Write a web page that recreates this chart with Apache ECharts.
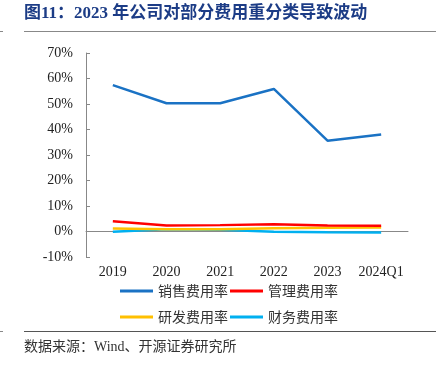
<!DOCTYPE html>
<html><head><meta charset="utf-8">
<script src="https://cdn.jsdelivr.net/npm/echarts@6/dist/echarts.min.js"></script>
<style>html,body{margin:0;padding:0;background:#fff}#c{width:436px;height:365px}</style>
</head><body><div id="c"></div>
<script>
const categories = ['2019','2020','2021','2022','2023','2024Q1'];
const salesRate = [57.4, 50.3, 50.3, 55.9, 35.6, 38.0];
const mgmtRate = [4.0, 2.4, 2.5, 2.8, 2.4, 2.3];
const rdRate = [1.2, 0.9, 0.9, 1.3, 1.5, 1.6];
const finRate = [-0.1, 0.9, 0.7, -0.1, -0.3, -0.4];
const seriesNames = ['销售费用率','管理费用率','研发费用率','财务费用率'];
const seriesColors = ['#1a72c4','#ff0000','#ffc000','#00b0f0'];
const yTicks = {min:-10, max:70, interval:10};

const chart = echarts.init(document.getElementById('c'), null, {renderer:'canvas'});
const values = [salesRate, mgmtRate, rdRate, finRate];
const serif = '"Liberation Serif","Times New Roman","Noto Sans CJK SC",serif';
const legendText = {fontSize:14, color:'#333', fontFamily:'"Noto Sans CJK SC",sans-serif'};
chart.setOption({
  animation:false,
  backgroundColor:'#fff',
  graphic:[
    {type:'text', left:24, top:5, style:{text:'图11：2023 年公司对部分费用重分类导致波动', font:'bold 17px "Liberation Serif","Noto Sans CJK SC",serif', fill:'#1c3c86'}},
    {type:'line', shape:{x1:24,y1:31.5,x2:436,y2:31.5}, style:{stroke:'#888',lineWidth:1}},
    {type:'line', shape:{x1:0,y1:31.5,x2:3,y2:31.5}, style:{stroke:'#888',lineWidth:1}},
    {type:'line', shape:{x1:24,y1:331.5,x2:436,y2:331.5}, style:{stroke:'#555',lineWidth:1}},
    {type:'line', shape:{x1:0,y1:331.5,x2:3,y2:331.5}, style:{stroke:'#888',lineWidth:1}},
    {type:'text', left:24, top:340, style:{text:'数据来源：Wind、开源证券研究所', font:'14px "Liberation Serif","Noto Sans CJK SC",serif', fill:'#333'}}
  ],
  grid:{left:86, right:28, top:53, bottom:108},
  xAxis:{type:'category', data:categories, boundaryGap:true,
    axisLine:{onZero:true, lineStyle:{color:'#888'}},
    axisTick:{inside:true, length:4, lineStyle:{color:'#888'}},
    axisLabel:{interval:0, color:'#222', fontSize:14, fontFamily:serif, margin:8}},
  yAxis:{type:'value', min:yTicks.min, max:yTicks.max, interval:yTicks.interval,
    axisLine:{show:true, lineStyle:{color:'#888'}},
    axisTick:{show:true, inside:true, length:4, lineStyle:{color:'#888'}},
    splitLine:{show:false},
    axisLabel:{color:'#222', fontSize:14, fontFamily:serif, margin:13, formatter:'{value}%'}},
  legend:[
    {data:[seriesNames[0],seriesNames[1]], left:115, top:279, icon:'rect', itemWidth:33, itemHeight:3, itemGap:2, textStyle:legendText},
    {data:[seriesNames[2],seriesNames[3]], left:115, top:305, icon:'rect', itemWidth:33, itemHeight:3, itemGap:2, textStyle:legendText}
  ],
  series: seriesNames.map((n,i)=>({
    name:n, type:'line', data:values[i], symbol:'none', color:seriesColors[i],
    lineStyle:{width:2.5, color:seriesColors[i]}, z: 10-i
  }))
});
</script></body></html>
